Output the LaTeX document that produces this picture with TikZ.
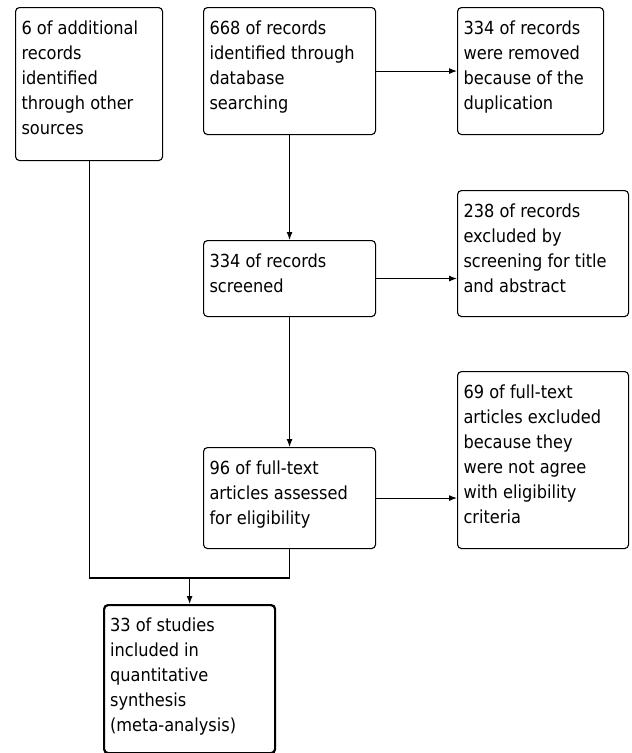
\documentclass[tikz,border=0pt]{standalone}
\usepackage{fontspec}
\setmainfont{DejaVu Sans Condensed}
\usepackage{tikz}
\usetikzlibrary{arrows.meta}

% box text: width, height, lines
\newcommand{\flowtext}[3]{\parbox[c][#2][t]{#1}{\raggedright\vspace*{13pt}#3}}

\tikzset{
  flow/.style={draw, rounded corners=4pt, anchor=north west, inner xsep=6pt,
    inner ysep=0pt, line width=1.1pt, font=\fontsize{18}{25}\selectfont},
  link/.style={line width=1.1pt},
  arr/.style={link, -{Latex[length=8pt, width=6pt]}}
}

\begin{document}
\begin{tikzpicture}[x=1pt, y=-1pt]
  \useasboundingbox (0,0) rectangle (632,753);

  % Identification
  \node [flow] (other) at (15,7) {\flowtext{135pt}{153pt}{6 of additional\\records\\identified\\through other\\sources}};
  \node [flow] (ident) at (203,7) {\flowtext{160pt}{127pt}{668 of records\\identified through\\database\\searching}};
  \node [flow] (dupl) at (457,7) {\flowtext{134pt}{127pt}{334 of records\\were removed\\because of the\\duplication}};

  % Screening
  \node [flow] (screen) at (203,240) {\flowtext{160pt}{76pt}{334 of records\\screened}};
  \node [flow] (title) at (457,190) {\flowtext{159pt}{126pt}{238 of records\\excluded by\\screening for title\\and abstract}};

  % Eligibility
  \node [flow] (full) at (203,447) {\flowtext{160pt}{101pt}{96 of full-text\\articles assessed\\for eligibility}};
  \node [flow] (crit) at (457,371) {\flowtext{159pt}{177pt}{69 of full-text\\articles excluded\\because they\\were not agree\\with eligibility\\criteria}};

  % Included
  \node [flow, line width=2.2pt] (incl) at (103,604) {\flowtext{159pt}{148pt}{33 of studies\\included in\\quantitative\\synthesis\\(meta-analysis)}};

  % Connectors
  \draw [arr] (ident) -- (dupl);
  \draw [arr] (ident) -- (screen);
  \draw [arr] (screen.east) -- (screen.east -| title.west);
  \draw [arr] (screen) -- (full);
  \draw [arr] (full) -- (full.east -| crit.west);

  \coordinate (merge) at (incl.north |- 0,578);
  \draw [link] (other.south) |- (merge) -| (full.south);
  \draw [arr] (merge) -- (incl.north);
\end{tikzpicture}
\end{document}
